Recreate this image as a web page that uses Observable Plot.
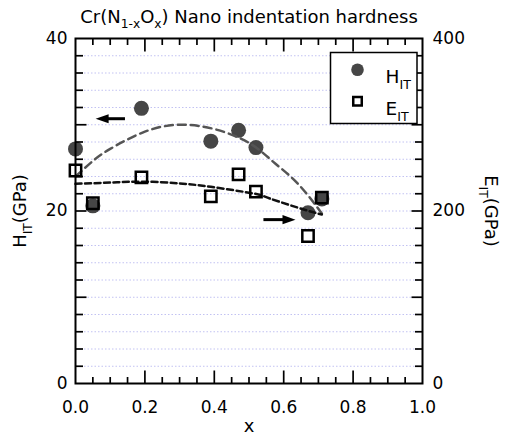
<!DOCTYPE html>
<html>
<head>
<meta charset="utf-8">
<script src="https://cdn.jsdelivr.net/npm/d3@7"></script>
<script src="https://cdn.jsdelivr.net/npm/@observablehq/plot@0.6"></script>
<style>
  body { margin: 0; background: #fff; }
  #chart svg { display: block; }
</style>
</head>
<body>
<div id="chart"></div>
<script>
// Oxygen fraction x in Cr(N1-xOx) films
const xs = [0.00, 0.05, 0.19, 0.39, 0.47, 0.52, 0.67, 0.71];
// Indentation hardness H_IT (GPa), left axis
const hardness = [27.2, 20.6, 31.9, 28.1, 29.35, 27.35, 19.8, 21.4];
// Indentation modulus E_IT (GPa), right axis
const modulus = [247, 209, 239, 217, 242.5, 222.5, 171, 215.5];

// Trend curves (dashed)
const hTrendX = [0.00, 0.05, 0.10, 0.20, 0.30, 0.40, 0.50, 0.57, 0.64, 0.71];
const hTrendY = [24.0, 25.8, 27.2, 29.2, 30.0, 29.5, 27.9, 25.7, 23.2, 19.7];
const eTrendX = [0.00, 0.10, 0.20, 0.30, 0.39, 0.51, 0.56, 0.66, 0.71];
const eTrendY = [231.5, 233, 234, 232, 228, 220.5, 214.5, 201.5, 196];

// Arrows pointing each series to its axis
const arrowTail = [0.144, 0.543];
const arrowTip = [0.058, 0.634];
const arrowLevel = [30.7, 19.0];

// Tick values and labels
const xTicks = [0, 0.2, 0.4, 0.6, 0.8, 1.0];
const hTicks = [0, 20, 40];
const eTickLabels = [0, 200, 400];

const points = xs.map((x, i) => ({x, H: hardness[i], E: modulus[i]}));
const hTrend = hTrendX.map((x, i) => ({x, H: hTrendY[i]}));
const eTrend = eTrendX.map((x, i) => ({x, E: eTrendY[i]}));
const arrows = arrowTail.map((tail, i) => ({tail, tip: arrowTip[i], y: arrowLevel[i]}));

const chartW = 505, chartH = 436;
const mL = 75, mR = 83, mT = 38, mB = 53;
const plotW = chartW - mL - mR, plotH = chartH - mT - mB;
const xMax = 1, yMax = 40;

// E_IT shares the frame with H_IT: 400 GPa on the right matches 40 GPa on the left
const eToH = e => e / 10;

const xMinor = d3.range(0.05, 1, 0.05).filter(v => Math.abs(v / 0.2 - Math.round(v / 0.2)) > 1e-6);
const xMajor = [0.2, 0.4, 0.6, 0.8];
const yMinor = d3.range(2, 40, 2).filter(v => v % 10 !== 0);
const yMajor = [10, 20, 30];
const gridLevels = d3.range(2, 40, 2);

const pxX = px => px * xMax / plotW;

// A tick drawn as a symbol: a short stroke from the anchor point, pointing right
const tickMark = len => ({
  draw(ctx) {
    ctx.moveTo(0, 0);
    ctx.lineTo(len, 0);
  }
});
const tickStyle = {stroke: "black", strokeWidth: 1.7, fill: "none", r: 3};

// Filled arrowhead with its tip at the origin, pointing right
const arrowHead = {
  draw(ctx, size) {
    const r = Math.sqrt(size / Math.PI);
    ctx.moveTo(0, 0);
    ctx.lineTo(-2 * r, -0.7 * r);
    ctx.lineTo(-2 * r, 0.7 * r);
    ctx.closePath();
  }
};

const chart = Plot.plot({
  width: chartW,
  height: chartH,
  marginLeft: mL,
  marginRight: mR,
  marginTop: mT,
  marginBottom: mB,
  style: {fontFamily: "DejaVu Sans", fontSize: "17px", color: "black", background: "white", overflow: "visible"},
  x: {domain: [0, xMax]},
  y: {domain: [0, yMax]},
  marks: [
    // dotted horizontal grid
    Plot.ruleY(gridLevels, {y: d => d, x1: pxX(9), x2: xMax - pxX(4), stroke: "#c2c2f2", strokeWidth: 1, strokeDasharray: "1.5,2"}),

    // H_IT points
    Plot.dot(points, {x: "x", y: "H", r: 7.5, fill: "#464646"}),

    // trend curves
    Plot.line(hTrend, {x: "x", y: "H", curve: "natural", stroke: "#555", strokeWidth: 2.5, strokeDasharray: "8,5"}),
    Plot.line(eTrend, {x: "x", y: d => eToH(d.E), curve: "natural", stroke: "#111", strokeWidth: 2.5, strokeDasharray: "6,3.5"}),

    // E_IT points
    Plot.dot(points, {x: "x", y: d => eToH(d.E), symbol: "square", r: 6.4, fill: "none", stroke: "black", strokeWidth: 2.5}),

    // arrows
    Plot.ruleY(arrows, {filter: d => d.tip < d.tail, x1: "tip", x2: "tail", y: "y", stroke: "black", strokeWidth: 3, insetLeft: 8}),
    Plot.ruleY(arrows, {filter: d => d.tip > d.tail, x1: "tail", x2: "tip", y: "y", stroke: "black", strokeWidth: 3, insetRight: 8}),
    Plot.dot(arrows, {x: "tip", y: "y", symbol: arrowHead, r: 6.5, fill: "black", rotate: d => (d.tip < d.tail ? 180 : 0)}),

    // tick labels
    Plot.axisX({ticks: xTicks, tickFormat: d3.format(".1f"), tickSize: 0, tickPadding: 17, label: null}),
    Plot.axisY({anchor: "left", ticks: hTicks, tickSize: 0, tickPadding: 8, label: null}),
    Plot.axisY({anchor: "right", ticks: eTickLabels.map(eToH), tickFormat: (d, i) => eTickLabels[i], tickSize: 0, tickPadding: 10, label: null}),

    Plot.frame({stroke: "black", strokeWidth: 2}),

    // inward ticks: left, right, bottom, top
    Plot.dot(yMinor, {...tickStyle, x: 0, y: d => d, symbol: tickMark(7.5)}),
    Plot.dot(yMajor, {...tickStyle, x: 0, y: d => d, symbol: tickMark(11)}),
    Plot.dot(yMinor, {...tickStyle, x: xMax, y: d => d, symbol: tickMark(7.5), rotate: 180}),
    Plot.dot(yMajor, {...tickStyle, x: xMax, y: d => d, symbol: tickMark(11), rotate: 180}),
    Plot.dot(xMinor, {...tickStyle, x: d => d, y: 0, symbol: tickMark(6.5), rotate: -90}),
    Plot.dot(xMajor, {...tickStyle, x: d => d, y: 0, symbol: tickMark(13), rotate: -90}),
    Plot.dot(xMinor, {...tickStyle, x: d => d, y: yMax, symbol: tickMark(6.5), rotate: 90}),
    Plot.dot(xMajor, {...tickStyle, x: d => d, y: yMax, symbol: tickMark(13), rotate: 90}),

    // legend
    Plot.frame({fill: "white", stroke: "black", strokeWidth: 1.5, insetLeft: 255, insetRight: 5.5, insetTop: 14, insetBottom: 260}),
    Plot.dot([0], {frameAnchor: "top-left", dx: 282, dy: 31.3, r: 6.3, fill: "#464646"}),
    Plot.dot([0], {frameAnchor: "top-left", dx: 282, dy: 62.7, r: 4.8, symbol: "square", fill: "none", stroke: "black", strokeWidth: 2.5}),
    Plot.text(["H_{IT}"], {text: d => d, frameAnchor: "top-left", dx: 310, dy: 31.5, fontSize: 18.5, textAnchor: "start"}),
    Plot.text(["E_{IT}"], {text: d => d, frameAnchor: "top-left", dx: 310, dy: 63, fontSize: 18.5, textAnchor: "start"}),

    // titles
    Plot.text(["Cr(N_{1-x}O_{x}) Nano indentation hardness"], {text: d => d, frameAnchor: "top", dy: -16, lineAnchor: "bottom", textAnchor: "middle", fontSize: 18}),
    Plot.text(["x"], {text: d => d, frameAnchor: "bottom", dy: 48, lineAnchor: "bottom", textAnchor: "middle", fontSize: 18}),
    Plot.text(["H_{IT}(GPa)"], {text: d => d, frameAnchor: "left", dx: -55, rotate: -90, textAnchor: "middle", fontSize: 18}),
    Plot.text(["E_{IT}(GPa)"], {text: d => d, frameAnchor: "right", dx: 68, rotate: 90, textAnchor: "middle", fontSize: 18})
  ]
});

document.getElementById("chart").appendChild(chart);

// Turn "_{...}" runs into lowered, smaller tspans
function applySubscripts(svg) {
  svg.querySelectorAll("text").forEach(el => {
    const s = el.textContent;
    if (!s.includes("_{")) return;
    const fs = parseFloat(getComputedStyle(el).fontSize);
    const shift = 0.33 * fs, small = 0.68 * fs;
    el.textContent = "";
    const add = (str) => {
      const t = document.createElementNS("http://www.w3.org/2000/svg", "tspan");
      t.textContent = str;
      el.appendChild(t);
      return t;
    };
    const re = /_\{([^}]*)\}/g;
    let last = 0, lowered = false, m;
    while ((m = re.exec(s))) {
      if (m.index > last) {
        const t = add(s.slice(last, m.index));
        if (lowered) { t.setAttribute("dy", -shift); lowered = false; }
      }
      const sub = add(m[1]);
      sub.setAttribute("font-size", small);
      sub.setAttribute("dy", shift);
      lowered = true;
      last = re.lastIndex;
    }
    if (last < s.length) {
      const t = add(s.slice(last));
      if (lowered) t.setAttribute("dy", -shift);
    }
  });
}
applySubscripts(chart);
</script>
</body>
</html>
